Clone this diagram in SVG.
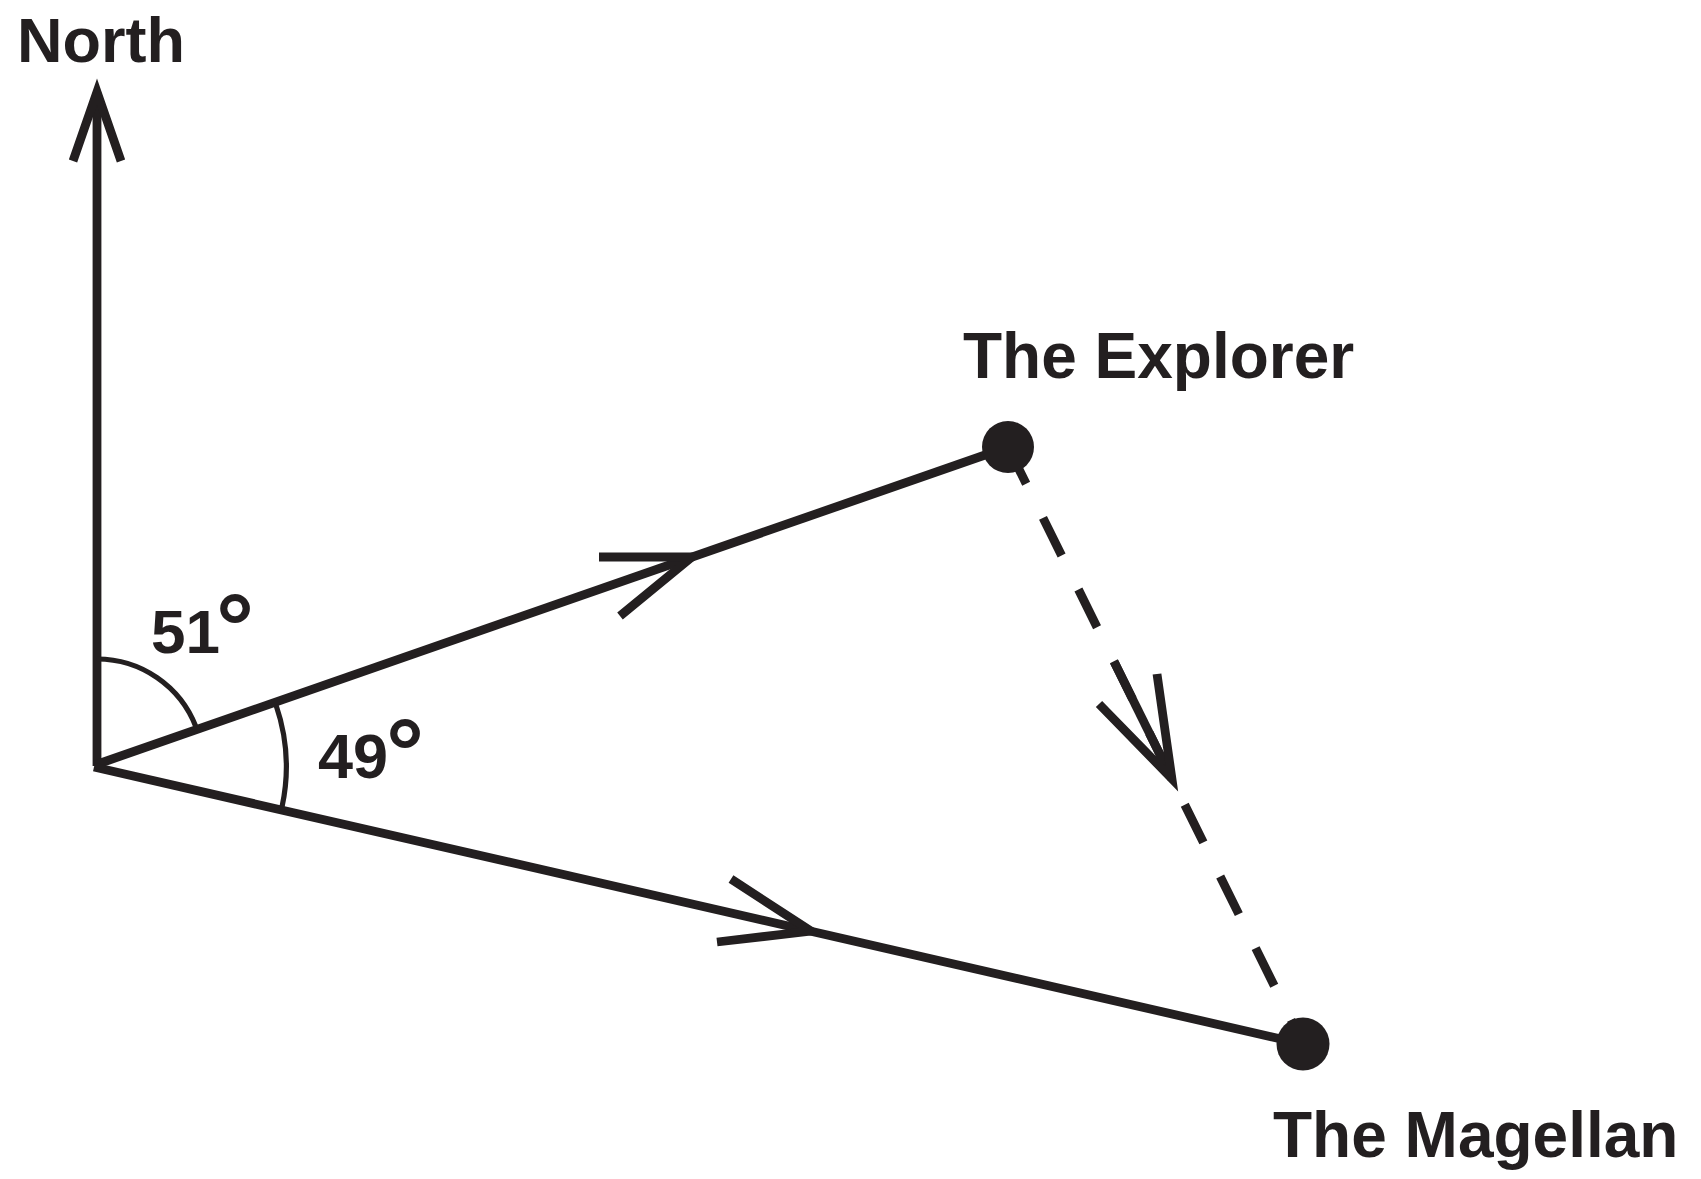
<svg xmlns="http://www.w3.org/2000/svg" width="1701" height="1179" viewBox="0 0 1701 1179">
<style>
.ln{fill:none;stroke:#231f20;stroke-width:8.8;stroke-linecap:butt;stroke-linejoin:miter;stroke-miterlimit:10}
.arc{fill:none;stroke:#231f20;stroke-width:5.2}
.dash{fill:none;stroke:#231f20;stroke-width:8.8;stroke-dasharray:42 38;stroke-dashoffset:1}
.lbl{font-family:"Liberation Sans",Arial,sans-serif;font-weight:bold;fill:#231f20}
.dot{fill:#231f20}
</style>
<rect width="1701" height="1179" fill="#ffffff"/>
<g id="connectors">
  <g id="north-arrow">
    <line class="ln" x1="97" y1="766" x2="97" y2="94"/>
    <polyline class="ln" points="73,161 97,92 121,161"/>
  </g>
  <g id="route-explorer">
    <line class="ln" x1="95" y1="765" x2="1008" y2="447"/>
    <polyline class="ln" points="599,557 692,557 620,616"/>
  </g>
  <g id="route-magellan">
    <line class="ln" x1="94" y1="767" x2="1303" y2="1044"/>
    <polyline class="ln" points="731,879 811,931 717,942"/>
  </g>
  <g id="route-explorer-magellan">
    <line class="dash" x1="1008" y1="447" x2="1303" y2="1044"/>
    <line class="ln" x1="1114.3" y1="662.1" x2="1171.9" y2="778.7"/>
    <polyline class="ln" points="1157,674 1171.9,778.7 1099,704"/>
  </g>
</g>
<g id="angle-51">
  <path class="arc" d="M97,659 A106,106 0 0 1 196,727"/>
  <text class="lbl" x="151" y="653" font-size="62">51<tspan x="216" y="660" font-size="95">°</tspan></text>
</g>
<g id="angle-49">
  <path class="arc" d="M276,705 A191,191 0 0 1 282,807"/>
  <text class="lbl" x="318" y="778" font-size="63">49<tspan x="386" y="785" font-size="95">°</tspan></text>
</g>
<g id="north">
  <text class="lbl" x="17" y="62" font-size="63">North</text>
</g>
<g id="explorer">
  <circle class="dot" cx="1008" cy="447" r="26"/>
  <text class="lbl" x="963" y="378" font-size="64">The Explorer</text>
</g>
<g id="magellan">
  <circle class="dot" cx="1303" cy="1044" r="26.5"/>
  <text class="lbl" x="1273" y="1157" font-size="64">The Magellan</text>
</g>
</svg>
